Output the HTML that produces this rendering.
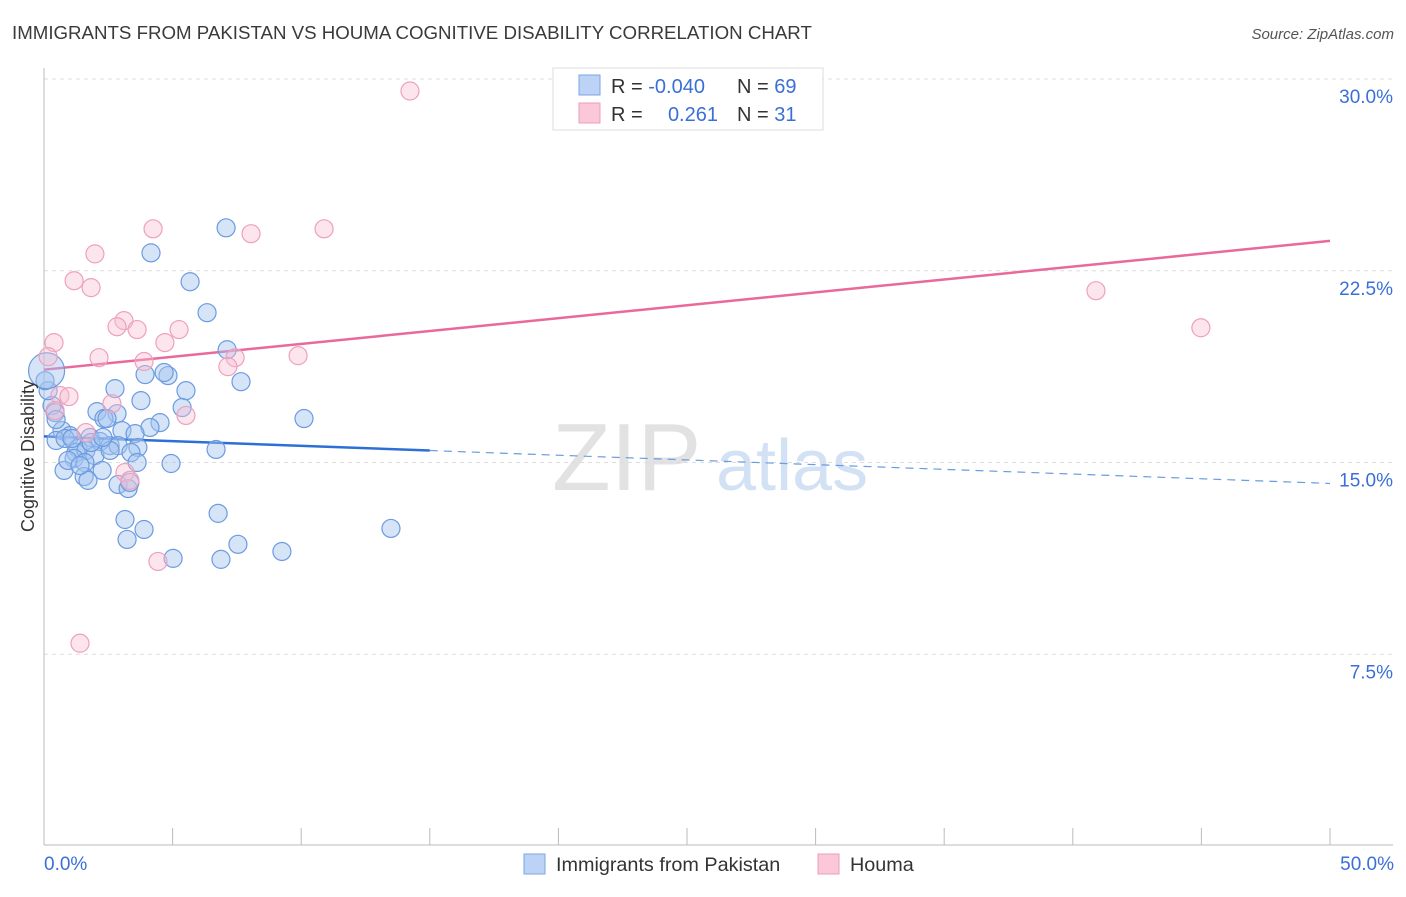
<!DOCTYPE html>
<html><head><meta charset="utf-8">
<style>
body{margin:0;background:#fff;font-family:"Liberation Sans",sans-serif;}
svg text{font-family:"Liberation Sans",sans-serif;}
</style></head>
<body>
<svg id="chart" width="1406" height="892" viewBox="0 0 1406 892" xmlns="http://www.w3.org/2000/svg">
<text x="12" y="39" font-size="18.7" fill="#3a3a3a">IMMIGRANTS FROM PAKISTAN VS HOUMA COGNITIVE DISABILITY CORRELATION CHART</text>
<text x="1394" y="39" font-size="15" fill="#555" font-style="italic" text-anchor="end">Source: ZipAtlas.com</text>
<g>
<text x="552" y="490" font-size="96" fill="#e2e2e2" font-family="Liberation Serif">ZIP</text>
<text x="716" y="490" font-size="72" fill="#d3e1f5">atlas</text>
</g>
<g id="grid"></g>
<g id="axes"></g>
<g id="lines"></g>
<g id="pts"></g>
<text transform="translate(34,456) rotate(-90)" font-size="18" fill="#333" text-anchor="middle">Cognitive Disability</text>
<g>
<rect x="553" y="68" width="270" height="62" fill="#fff" stroke="#ddd"/>
<rect x="579" y="75" width="21" height="20" fill="#bcd3f5" stroke="#7aa6e6"/>
<rect x="579" y="103" width="21" height="20" fill="#fac8d8" stroke="#ee9dba"/>
<text x="611" y="93" font-size="20" fill="#333">R = <tspan fill="#3a6fd8">-0.040</tspan></text>
<text x="737" y="93" font-size="20" fill="#333">N = <tspan fill="#3a6fd8">69</tspan></text>
<text x="611" y="121" font-size="20" fill="#333">R = </text>
<text x="718" y="121" font-size="20" fill="#3a6fd8" text-anchor="end">0.261</text>
<text x="737" y="121" font-size="20" fill="#333">N = <tspan fill="#3a6fd8"> 31</tspan></text>
</g>
<g>
<rect x="524" y="854" width="21" height="20" fill="#bcd3f5" stroke="#7aa6e6"/>
<text x="556" y="871" font-size="19.8" fill="#333">Immigrants from Pakistan</text>
<rect x="818" y="854" width="21" height="20" fill="#fac8d8" stroke="#ee9dba"/>
<text x="850" y="871" font-size="19.8" fill="#333">Houma</text>
</g>
</svg>
<script>
const yTicks=[7.5,15,22.5,30];
const yTickLabels=["7.5%","15.0%","22.5%","30.0%"];
const xTicks=[0,5,10,15,20,25,30,35,40,45,50];
const blueX=[7.08,4.16,5.68,6.34,7.12,7.66,4.82,3.93,4.67,5.52,2.76,3.77,5.37,2.06,2.84,2.33,2.45,4.51,10.11,3.03,4.12,3.54,0.70,1.01,0.47,0.82,1.79,2.18,2.57,2.88,3.65,3.38,1.32,1.24,1.63,1.98,2.57,0.31,0.16,0.04,0.43,0.47,1.17,1.59,3.62,4.94,6.69,0.78,2.26,1.56,1.71,2.88,3.27,3.34,3.15,6.77,3.89,3.23,5.02,6.88,7.54,9.25,13.49,0.93,1.40,1.83,2.29,1.09,0.10];
const blueY=[24.18,23.20,22.07,20.86,19.41,18.16,18.40,18.44,18.52,17.81,17.89,17.42,17.15,16.99,16.91,16.72,16.72,16.56,16.72,16.25,16.37,16.13,16.25,16.05,15.86,15.94,15.98,15.82,15.66,15.66,15.59,15.39,15.55,15.39,15.47,15.27,15.47,17.23,17.81,18.20,16.95,16.68,15.16,15.00,15.00,14.96,15.51,14.69,14.69,14.45,14.30,14.14,13.98,14.22,12.77,13.01,12.38,11.99,11.25,11.21,11.80,11.52,12.42,15.08,14.88,15.78,15.98,15.94,18.59];
const pinkX=[14.23,4.24,10.89,8.05,1.98,1.17,1.83,3.11,2.84,3.62,5.25,0.39,4.70,2.14,3.89,7.43,7.15,9.88,0.16,0.62,0.97,2.64,0.43,5.52,3.15,3.34,4.43,1.40,40.90,44.98,1.63];
const pinkY=[29.53,24.14,24.14,23.95,23.16,22.11,21.84,20.55,20.31,20.20,20.20,19.69,19.69,19.10,18.95,19.10,18.75,19.18,19.14,17.62,17.58,17.30,17.03,16.84,14.61,14.30,11.13,7.93,21.72,20.27,16.17];
const pinkTrend=[18.63,23.67];
const blueTrend=[16.02,14.18];
const NS="http://www.w3.org/2000/svg";
const X0=44,X1=1330,Y0=846,YT=79;
const sx=v=>X0+(X1-X0)*v/50;
const sy=v=>Y0-(Y0-YT)*v/30;
function mk(tag,attrs,parent){const e=document.createElementNS(NS,tag);for(const k in attrs)e.setAttribute(k,attrs[k]);parent.appendChild(e);return e;}
const grid=document.getElementById('grid'),axes=document.getElementById('axes');
yTicks.forEach((t,i)=>{
 const l=mk('line',{x1:44,x2:1393,y1:sy(t),y2:sy(t),stroke:'#ddd','stroke-dasharray':'4,4'},grid);
 
 
 const tx=mk('text',{x:1393,y:sy(t)+24,'font-size':19,fill:'#3a6fd8','text-anchor':'end'},axes);
 tx.textContent=yTickLabels[i];
 
 
});
const ax=mk('line',{x1:44,x2:1393,y1:845,y2:845,stroke:'#bbb'},axes);


const ay=mk('line',{x1:44,x2:44,y1:68,y2:845,stroke:'#bbb'},axes);


xTicks.forEach(t=>{
 const k=mk('line',{x1:sx(t),x2:sx(t),y1:828,y2:845,stroke:'#bbb'},axes);
 
 
});
const xl0=mk('text',{x:44,y:870,'font-size':19,fill:'#3a6fd8'},axes);xl0.textContent='0.0%';


const xl1=mk('text',{x:1394,y:870,'font-size':19,fill:'#3a6fd8','text-anchor':'end'},axes);xl1.textContent='50.0%';


const pts=document.getElementById('pts');
blueX.forEach((x,i)=>{
 const big=(i===blueX.length-1);
 const c=mk('circle',{cx:sx(x),cy:sy(blueY[i]),r:big?18:9,fill:'rgba(164,196,240,0.45)',stroke:'#6b9be0','stroke-width':1.2},pts);
 
 
});
pinkX.forEach((x,i)=>{
 const c=mk('circle',{cx:sx(x),cy:sy(pinkY[i]),r:9,fill:'rgba(248,190,210,0.4)',stroke:'#eea0bc','stroke-width':1.2},pts);
 
 
});
const lines=document.getElementById('lines');
const pl=mk('line',{x1:sx(0),y1:sy(pinkTrend[0]),x2:sx(50),y2:sy(pinkTrend[1]),stroke:'#e8699a','stroke-width':2.5},lines);


const bAt=x=>blueTrend[0]+(blueTrend[1]-blueTrend[0])*x/50;
const bl=mk('line',{x1:sx(0),y1:sy(bAt(0)),x2:sx(15),y2:sy(bAt(15)),stroke:'#2e6fd6','stroke-width':2.5},lines);


const bd=mk('line',{x1:sx(15),y1:sy(bAt(15)),x2:sx(50),y2:sy(bAt(50)),stroke:'#6b9be0','stroke-width':1.2,'stroke-dasharray':'8,6'},lines);


</script>
</body></html>
